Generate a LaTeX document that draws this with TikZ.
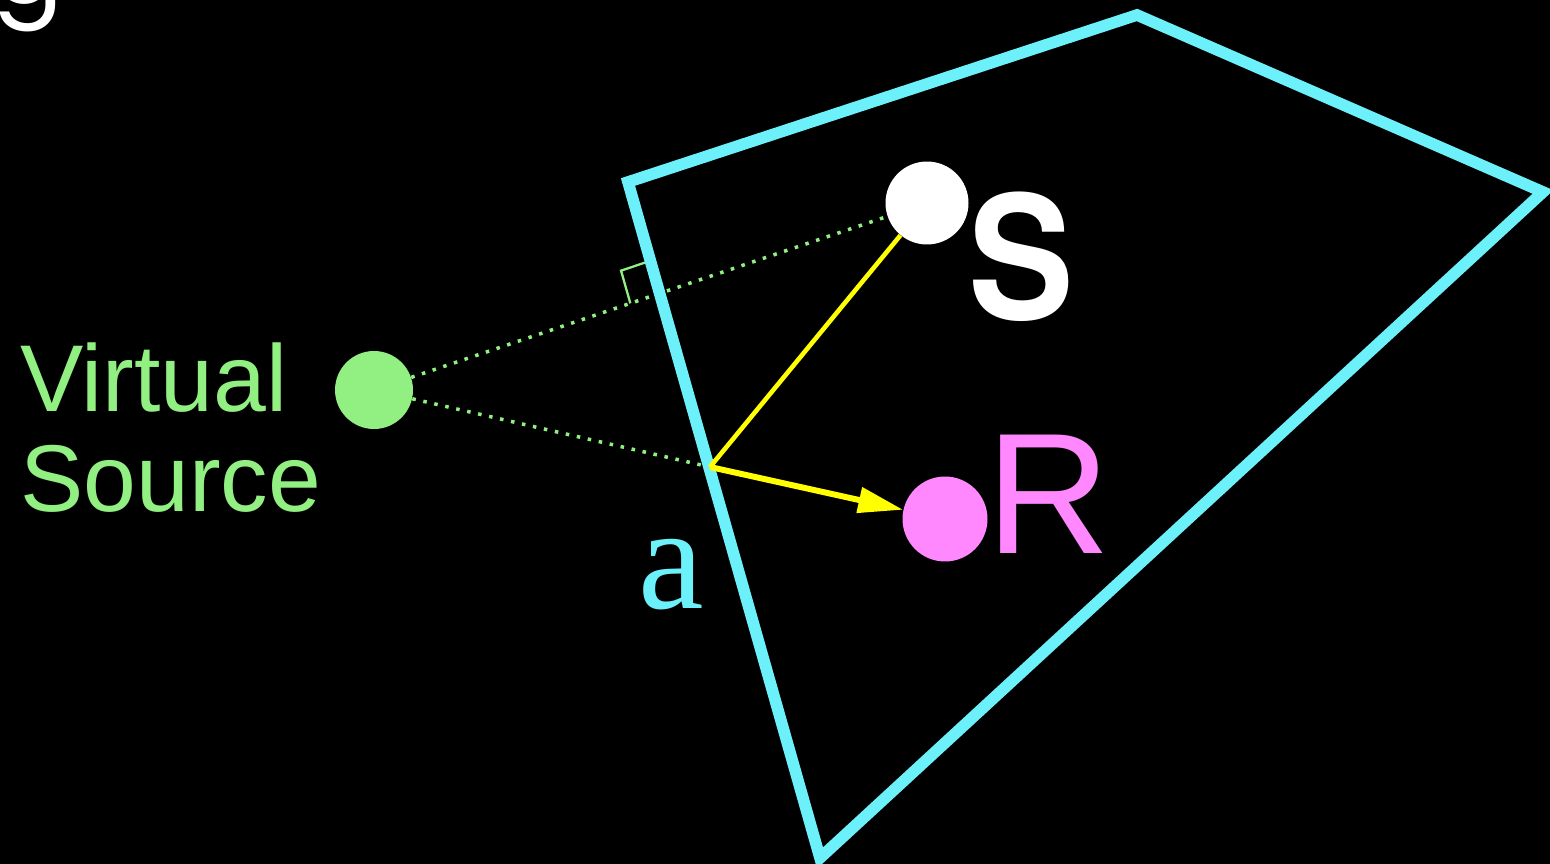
\documentclass[tikz,border=0pt]{standalone}
\usepackage{fontspec}
\setmainfont{Liberation Sans}
\newfontfamily\serifFont{Liberation Serif}
\newfontfamily\boldSans{TeX Gyre Heros}
\newfontfamily\titleFont{Poppins}
\usetikzlibrary{arrows.meta, positioning, calc}

\definecolor{wallCyan}{RGB}{108,240,250}
\definecolor{vsGreen}{RGB}{146,240,130}
\definecolor{rcvPink}{RGB}{255,136,255}
\definecolor{rayYellow}{RGB}{255,255,0}

\begin{document}
\begin{tikzpicture}[x=0.02cm, y=-0.02cm,
    % ── wall and points ──
    wallLine/.style  = {draw=wallCyan, line width=6.6pt, line join=miter},
    vsDot/.style     = {circle, fill=vsGreen, inner sep=0pt, minimum size=1.56cm},
    srcDot/.style    = {circle, fill=white, inner sep=0pt, minimum size=1.66cm},
    rcvDot/.style    = {circle, fill=rcvPink, inner sep=0pt, minimum size=1.7cm},
    % ── rays ──
    dotRay/.style    = {draw=vsGreen, line width=2pt,
                        dash pattern=on 2pt off 4.4pt},
    markLine/.style  = {draw=vsGreen, line width=1.3pt},
    yellowRay/.style = {draw=rayYellow, line width=2.6pt},
    yellowArr/.style = {draw=rayYellow, line width=3.4pt,
                        -{Triangle[length=0.9cm, width=0.5cm]}},
    % ── text styles ──
    vsLabel/.style   = {text=vsGreen, font=\fontsize{54}{57}\selectfont,
                        align=left, inner sep=0pt},
    srcLabel/.style  = {text=white,
                        font=\boldSans\bfseries\fontsize{98}{98}\selectfont,
                        inner sep=0pt, xscale=0.92},
    rcvLabel/.style  = {text=rcvPink, font=\fontsize{98}{98}\selectfont,
                        inner sep=0pt},
    wallLabel/.style = {text=wallCyan, font=\serifFont\fontsize{84}{84}\selectfont,
                        inner sep=0pt},
    titleLabel/.style= {text=white, font=\titleFont\fontsize{60}{60}\selectfont,
                        inner sep=0pt},
]

\fill[black] (0,0) rectangle (1550,864);
\useasboundingbox (0,0) rectangle (1550,864);
\clip (0,0) rectangle (1550,864);

% =====================================================================
% cut-off title letter
% =====================================================================
\node[titleLabel, anchor=base east] (title) at (64,4) {g};

% =====================================================================
% points: virtual source, source, receiver
% =====================================================================
\node[vsDot]  (vs)  at (374,390) {};
\node[srcDot] (src) at (927,203) {};
\node[rcvDot] (rcv) at (945,519) {};

% wall corners
\coordinate (wallTL) at (628,182);
\coordinate (wallT)  at (1137,15);
\coordinate (wallR)  at (1543,192);
\coordinate (wallB)  at (820,858);
\coordinate (a)      at (710,467);  % reflection point

% =====================================================================
% image rays (dotted) and right-angle mark
% =====================================================================
\draw[dotRay] (vs) -- (src);
\draw[dotRay] (vs) -- (a);

\coordinate (foot) at (intersection of vs.center--src.center and wallTL--wallB);
\coordinate (mkA) at ($(foot)!0.68cm!(wallTL)$);
\coordinate (mkB) at ($(foot)!0.62cm!(vs.center)$);
\draw[markLine] (mkA) -- ($(mkA)+(mkB)-(foot)$) -- (mkB);

% =====================================================================
% wall
% =====================================================================
\draw[wallLine] (wallTL) -- (wallT) -- (wallR) -- (wallB) -- cycle;

% =====================================================================
% real path  S -> a -> R
% =====================================================================
\draw[yellowRay] (a) -- (src);
\draw[yellowArr] (a) -- (rcv);

% =====================================================================
% labels
% =====================================================================
\node[vsLabel, anchor=north west] (vsText) at (20,342) {Virtual\\Source};
\node[srcLabel, anchor=base west] (srcText) at (968,320) {S};
\node[rcvLabel, anchor=base west] (rcvText) at (986,553) {R};
\node[wallLabel, anchor=base west] (aText) at (638,608) {a};

\end{tikzpicture}
\end{document}
